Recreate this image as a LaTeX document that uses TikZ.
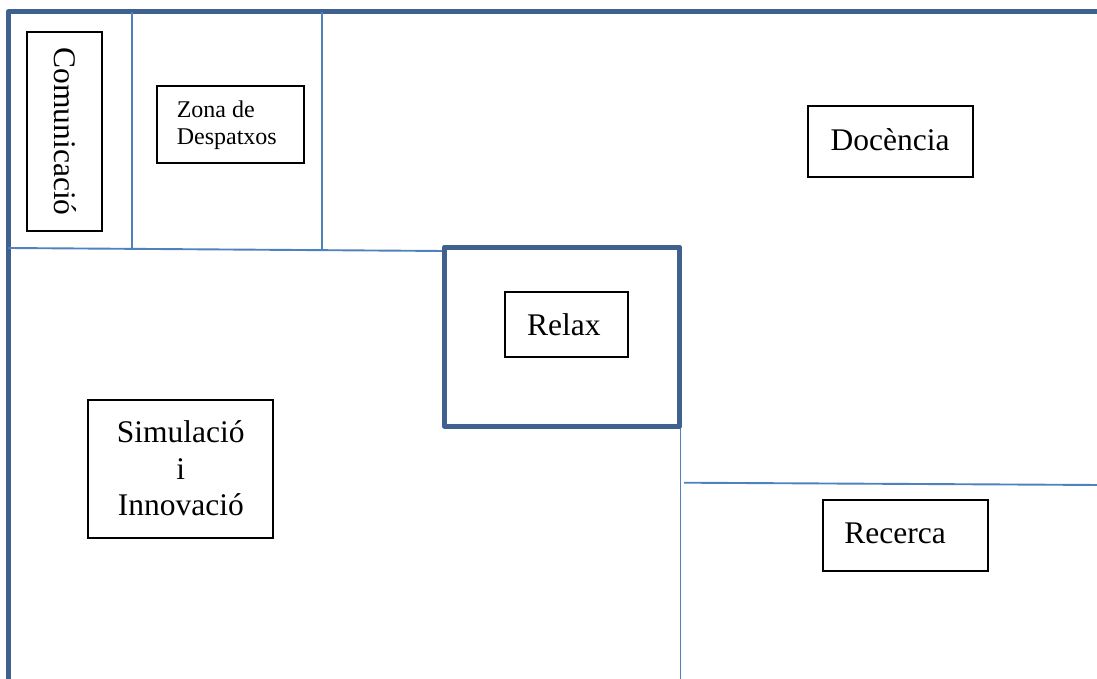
\documentclass[tikz,border=0pt]{standalone}
\usepackage{fontspec}
\setmainfont{Liberation Serif}
\definecolor{wallthick}{HTML}{3F6190}
\definecolor{wallthin}{HTML}{4F81BD}
\begin{document}
\begin{tikzpicture}[x=1pt,y=-1pt,
  thickwall/.style={draw=wallthick,line width=5pt,line cap=round,line join=round},
  thinwall/.style={draw=wallthin,line width=1.9pt},
  zonebox/.style={draw=black,line width=2pt,inner sep=0pt,font=\fontsize{31.5}{36.5}\selectfont,align=center},
  smallbox/.style={draw=black,line width=2pt,inner sep=0pt,font=\fontsize{24}{27}\selectfont,align=left}]
\useasboundingbox (0,0) rectangle (1097,679);
% walls
\coordinate (tl) at (8.3,11.7);
\coordinate (tr) at (1100,11.7);
\coordinate (bl) at (8.3,682);
\draw[thickwall] (tr) -- (tl) -- (bl);
\coordinate (h1a) at (8.3,248);
\coordinate (h1b) at (444.5,251);
\draw[thinwall] (h1a) -- (h1b);
\coordinate (v1a) at (132.3,11.7);
\coordinate (v1b) at (132.3,248.3);
\draw[thinwall] (v1a) -- (v1b);
\coordinate (v2a) at (321.7,11.7);
\coordinate (v2b) at (321.7,250);
\draw[thinwall] (v2a) -- (v2b);
\coordinate (v3a) at (680.5,403);
\coordinate (v3b) at (680.5,682);
\draw[thinwall] (v3a) -- (v3b);
\coordinate (h2a) at (684,482.7);
\coordinate (h2b) at (1100,485);
\draw[thinwall] (h2a) -- (h2b);
\coordinate (rxa) at (444.5,247);
\coordinate (rxb) at (679.5,426);
\draw[thickwall] (rxa) rectangle (rxb);
% zone labels
\node[zonebox,rotate=-90,minimum width=199pt,minimum height=75pt] (com) at (64.8,131.7) {Comunicació};
\node[smallbox,minimum width=147pt,minimum height=77pt] (desp) at (230.8,125) {Zona de\\Despatxos\hspace*{8pt}};
\node[zonebox,minimum width=165pt,minimum height=71pt] (doc) at (890,142) {\raisebox{5pt}{Docència}};
\node[zonebox,minimum width=123pt,minimum height=65pt] (relax) at (566.8,324.8) {Relax\hspace*{6pt}};
\node[zonebox,minimum width=185pt,minimum height=138pt] (sim) at (180.8,468.5) {Simulació\\i\\Innovació};
\node[zonebox,minimum width=165pt,minimum height=71pt] (rec) at (905,535) {\raisebox{4pt}{Recerca}\hspace*{20pt}};
\end{tikzpicture}
\end{document}
